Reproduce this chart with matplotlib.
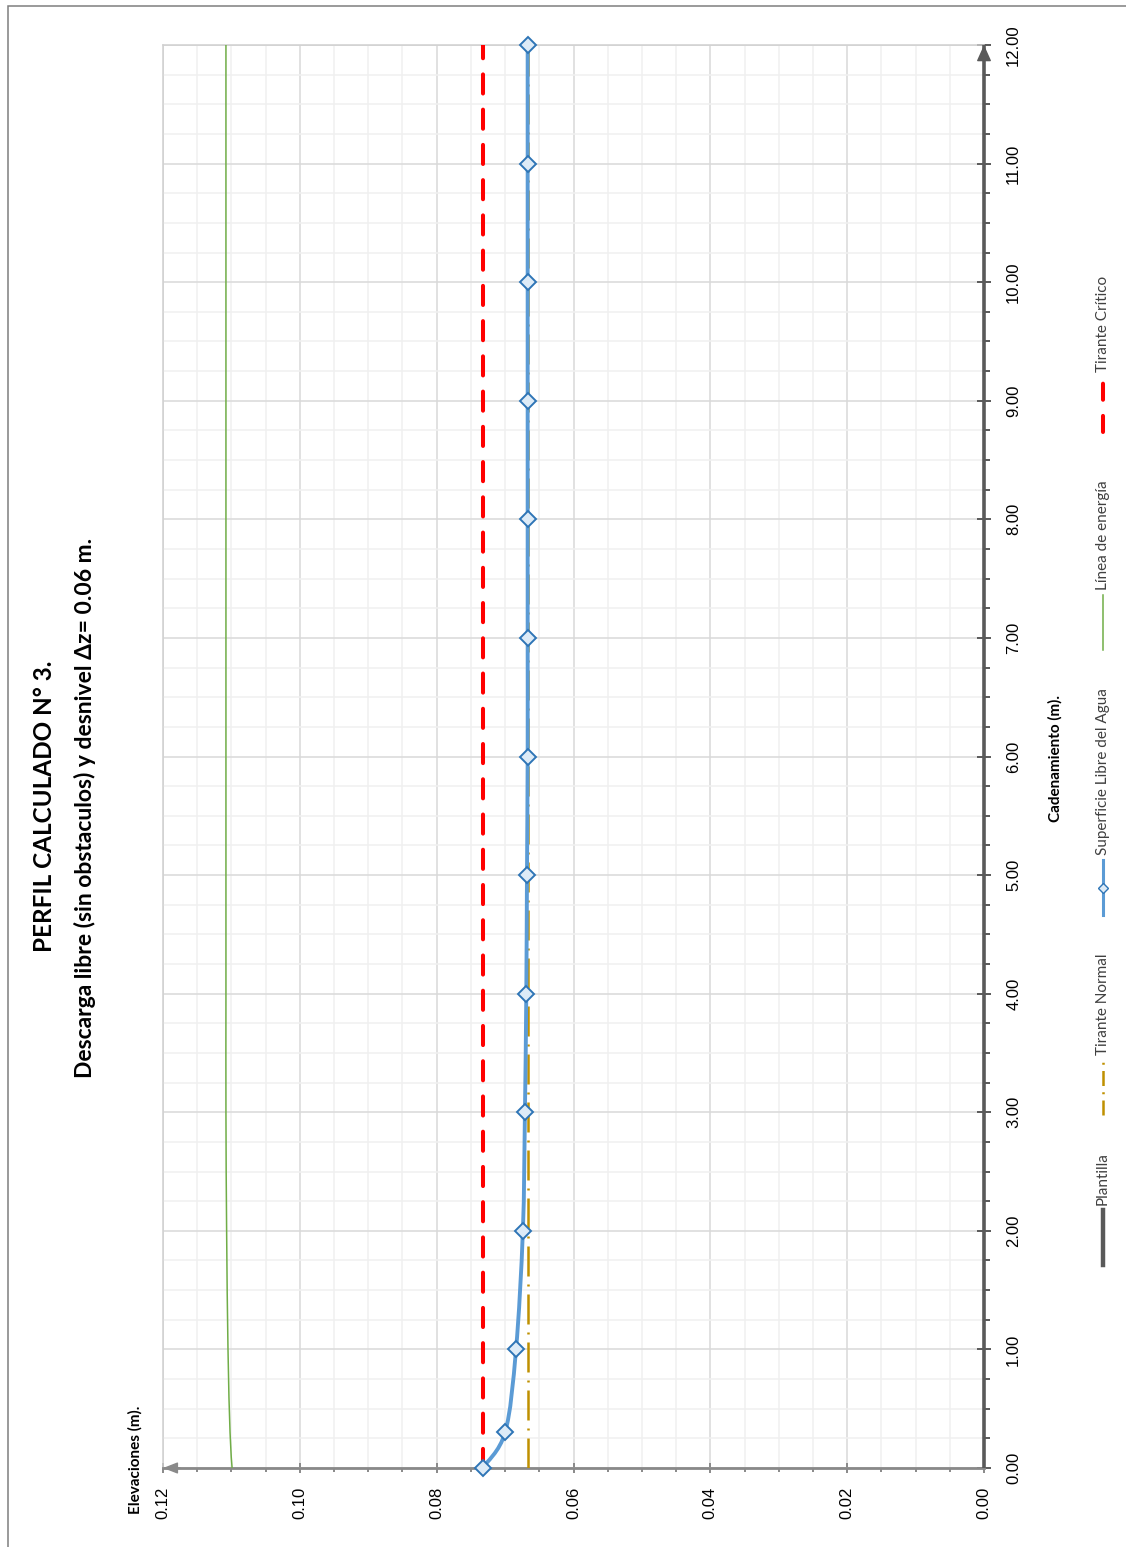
import matplotlib
matplotlib.use("Agg")
import matplotlib.pyplot as plt
from matplotlib.path import Path
from matplotlib.patches import PathPatch, Rectangle
from matplotlib.lines import Line2D
from matplotlib.ticker import MultipleLocator, FormatStrFormatter
import numpy as np

# datos del perfil (cadenamiento en m, elevaciones en m)
cadenamiento = [0.0, 0.3, 1.0, 2.0, 3.0, 4.0, 5.0, 6.0, 7.0, 8.0, 9.0, 10.0, 11.0, 12.0]
superficie = [0.0733, 0.0700, 0.0684, 0.0674, 0.0671, 0.0669, 0.0668,
              0.0667, 0.0667, 0.0667, 0.0667, 0.0667, 0.0667, 0.0667]
energia = [0.1099, 0.1102, 0.1105, 0.1107, 0.1108, 0.1108, 0.1108,
           0.1108, 0.1108, 0.1108, 0.1108, 0.1108, 0.1108, 0.1108]
tramo = [0.0, 12.0]
plantilla = [0.0, 0.0]
tirante_normal = [0.0667, 0.0667]
tirante_critico = [0.0733, 0.0733]

etiquetas = ["Plantilla", "Tirante Normal", "Superficie Libre del Agua",
             "Línea de energía", "Tirante Crítico"]

W, H = 1126, 1547
fig = plt.figure(figsize=(W / 100, H / 100), dpi=100)
fig.patch.set_facecolor("white")


def px(x, y):
    # pixel (desde arriba-izquierda) -> fraccion de figura
    return x / W, 1 - y / H


def smooth_path(xs, ys):
    # linea suavizada tipo Excel (Catmull-Rom como Bezier cubica)
    xs = np.asarray(xs, float)
    ys = np.asarray(ys, float)
    n = len(xs)
    verts = [(xs[0], ys[0])]
    codes = [Path.MOVETO]
    for i in range(n - 1):
        a = max(i - 1, 0)
        d = min(i + 2, n - 1)
        c1 = (xs[i] + (xs[i + 1] - xs[a]) / 6, ys[i] + (ys[i + 1] - ys[a]) / 6)
        c2 = (xs[i + 1] - (xs[d] - xs[i]) / 6, ys[i + 1] - (ys[d] - ys[i]) / 6)
        verts += [c1, c2, (xs[i + 1], ys[i + 1])]
        codes += [Path.CURVE4] * 3
    return Path(verts, codes)


x0, y0 = px(163, 1468)
x1, y1 = px(984, 45)
ax = fig.add_axes([x0, y0, x1 - x0, y1 - y0])

ax.set_xlim(0.12, 0.0)
ax.set_ylim(0, 12)

ax.xaxis.set_major_locator(MultipleLocator(0.02))
ax.xaxis.set_minor_locator(MultipleLocator(0.005))
ax.yaxis.set_major_locator(MultipleLocator(1))
ax.yaxis.set_minor_locator(MultipleLocator(0.25))
ax.xaxis.set_major_formatter(FormatStrFormatter("%.2f"))
ax.yaxis.set_major_formatter(FormatStrFormatter("%.2f"))

ax.set_axisbelow(True)
ax.grid(which="major", color="#D9D9D9", lw=1.1)
ax.grid(which="minor", color="#F0F0F0", lw=1.1)

for s in ["top", "left"]:
    ax.spines[s].set_color("#D0D0D0")
    ax.spines[s].set_linewidth(1.1)
ax.spines["bottom"].set_color("#898989")
ax.spines["bottom"].set_linewidth(2)
ax.spines["right"].set_visible(False)

ax.yaxis.tick_right()
ax.tick_params(axis="x", which="major", direction="inout", length=7, width=1.4,
               color="#898989", labelsize=12, labelrotation=90, pad=10)
ax.tick_params(axis="x", which="minor", direction="out", length=3, width=1.4,
               color="#898989")
ax.tick_params(axis="y", which="major", direction="inout", length=10, width=1.4,
               color="#595959", labelsize=12, labelrotation=90, pad=11)
ax.tick_params(axis="y", which="minor", direction="out", length=4, width=1.4,
               color="#595959")
for lab in ax.get_xticklabels() + ax.get_yticklabels():
    lab.set_fontfamily("Liberation Sans")
for lab in ax.get_yticklabels():
    lab.set_verticalalignment("center")

# series
ax.plot(plantilla, tramo, color="#595959", lw=2.6, zorder=6, clip_on=False,
        solid_capstyle="butt")
ax.annotate("", xy=(0.0, 12.0), xytext=(0.0, 11.8), annotation_clip=False,
            arrowprops=dict(arrowstyle="-|>,head_length=1.0,head_width=0.45",
                            color="#595959", lw=1, mutation_scale=10,
                            shrinkA=0, shrinkB=0), zorder=7)
ax.annotate("", xy=(0.12, 0.0), xytext=(0.1175, 0.0), annotation_clip=False,
            arrowprops=dict(arrowstyle="-|>,head_length=0.9,head_width=0.35",
                            color="#898989", lw=1, mutation_scale=10,
                            shrinkA=0, shrinkB=0), zorder=7)

ax.plot(tirante_normal, tramo, color="#BF9000", lw=1.8,
        dashes=(12, 3.2, 0.8, 3.2), zorder=3)
ax.plot(tirante_critico, tramo, color="#FF0000", lw=2.9,
        dashes=(4.75, 4.0), dash_capstyle="round", zorder=3)
ax.add_patch(PathPatch(smooth_path(energia, cadenamiento), fill=False,
                       edgecolor="#70AD47", lw=1.1, zorder=4))
ax.add_patch(PathPatch(smooth_path(superficie, cadenamiento), fill=False,
                       edgecolor="#5B9BD5", lw=2.8, zorder=5))
ax.plot(superficie, cadenamiento, linestyle="none", marker="D", markersize=8,
        markerfacecolor="#DDEBF7", markeredgecolor="#2E75B6",
        markeredgewidth=1.4, zorder=6, clip_on=False)

# titulos
fig.text(*px(45, 806), "PERFIL CALCULADO N° 3.", rotation=90, ha="center",
         va="center", fontsize=17.5, fontweight="bold", family="Lato")
fig.text(*px(85, 808), "Descarga libre (sin obstaculos) y desnivel Δz= 0.06 m.",
         rotation=90, ha="center", va="center", fontsize=16.5, fontweight="bold",
         family=["Lato", "DejaVu Sans"])
fig.text(*px(135, 1460), "Elevaciones (m).", rotation=90, ha="center",
         va="center", fontsize=11, fontweight="bold", family="Lato")
fig.text(*px(1055, 758), "Cadenamiento (m).", rotation=90, ha="center",
         va="center", fontsize=11, fontweight="bold", family="Lato")

# leyenda (girada)
estilos = [
    dict(color="#595959", lw=3.2),
    dict(color="#BF9000", lw=1.8, dashes=(6, 2.5, 0.8, 2.5)),
    dict(color="#5B9BD5", lw=2.2),
    dict(color="#70AD47", lw=1.1),
    dict(color="#FF0000", lw=2.9, dashes=(4, 4), dash_capstyle="round"),
]
base_y = [1265, 1115, 915, 650, 432]
lx = 1103
for lab, st, by in zip(etiquetas, estilos, base_y):
    xa, ya = px(lx, by)
    xb, yb = px(lx, by - 55)
    fig.add_artist(Line2D([xa, xb], [ya, yb], transform=fig.transFigure, **st))
    if lab == "Superficie Libre del Agua":
        xm, ym = px(lx, by - 27)
        fig.add_artist(Line2D([xm], [ym], transform=fig.transFigure,
                              marker="D", markersize=5, markerfacecolor="#DDEBF7",
                              markeredgecolor="#2E75B6", markeredgewidth=1))
    xt, yt = px(lx, by - 60)
    fig.text(xt, yt, lab, rotation=90, rotation_mode="anchor", ha="left",
             va="center", fontsize=11, family="Lato", color="#404040")

# marco exterior
fx, fy = px(8, 1600)
fig.add_artist(Rectangle((fx, fy), 1.2, (1600 - 5.7) / H,
                         transform=fig.transFigure, fill=False,
                         edgecolor="#7F7F7F", lw=1.1, clip_on=False))

fig.savefig("out.png", dpi=100)
